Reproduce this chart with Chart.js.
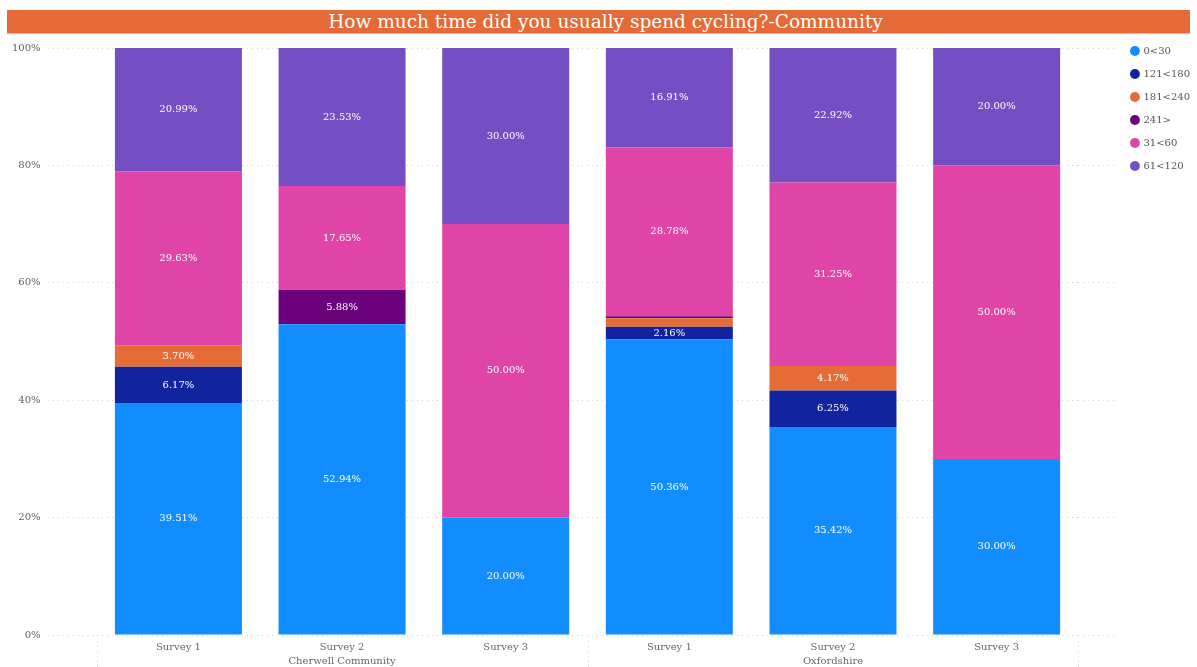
<!DOCTYPE html>
<html>
<head>
<meta charset="utf-8">
<script src="https://cdn.jsdelivr.net/npm/chart.js@4.4.0/dist/chart.umd.min.js"></script>
<style>
  body { margin: 0; background: #fff; width: 1197px; height: 667px; overflow: hidden; position: relative; }
  #title {
    position: absolute; left: 7px; top: 10px; width: 1169px; height: 23px; padding-left: 14px;
    background: #E46A38; color: #fff; text-align: center;
    font: 18.5px 'DejaVu Serif', serif; line-height: 23px;
    border-bottom: 1px solid #F2AD8C;
  }
  #wrap { position: absolute; left: 0; top: 35px; width: 1197px; height: 632px; }
</style>
</head>
<body>
<div id="title">How much time did you usually spend cycling?-Community</div>
<div id="wrap"><canvas id="myChart"></canvas></div>
<script>
// survey columns, grouped by area (area name sits under the middle survey)
let surveys = [['Survey 1'], ['Survey 2', 'Cherwell Community'], ['Survey 3'],
               ['Survey 1'], ['Survey 2', 'Oxfordshire'], ['Survey 3']];
let bands = ['0<30', '121<180', '181<240', '241>', '31<60', '61<120'];
let bandColors = ['#118DFF', '#12239E', '#E66C37', '#6B007B', '#E044A7', '#744EC2'];

// share of respondents (%) per band, one value per survey column
let min0_30    = [39.51, 52.94, 20.00, 50.36, 35.42, 30.00];
let min121_180 = [6.17, 0, 0, 2.16, 6.25, 0];
let min181_240 = [3.70, 0, 0, 1.44, 4.17, 0];
let min241     = [0, 5.88, 0, 0.36, 0, 0];
let min31_60   = [29.63, 17.65, 50.00, 28.78, 31.25, 50.00];
let min61_120  = [20.99, 23.53, 30.00, 16.91, 22.92, 20.00];

let yTicks = [0, 20, 40, 60, 80, 100];

let bandValues = [min0_30, min121_180, min181_240, min241, min31_60, min61_120];
let fontFamily = "'DejaVu Serif', serif";

// white % labels in the middle of each segment big enough to hold one
const segmentLabels = {
    id: 'segmentLabels',
    afterDatasetsDraw(chart) {
        const ctx = chart.ctx;
        ctx.save();
        ctx.font = '10px ' + fontFamily;
        ctx.fillStyle = '#fff';
        ctx.textAlign = 'center';
        ctx.textBaseline = 'middle';
        chart.data.datasets.forEach((ds, i) => {
            chart.getDatasetMeta(i).data.forEach((bar, j) => {
                const v = ds.data[j];
                if (!v || v < 2) return;
                ctx.fillText(v.toFixed(2) + '%', bar.x, (bar.y + bar.base) / 2);
            });
        });
        ctx.restore();
    }
};

// dotted dividers under the axis: left edge, between the two areas, right edge
const groupDividers = {
    id: 'groupDividers',
    afterDraw(chart) {
        const ctx = chart.ctx;
        const x = chart.scales.x;
        const area = chart.chartArea;
        const mid = (x.getPixelForValue(2) + x.getPixelForValue(3)) / 2;
        ctx.save();
        ctx.strokeStyle = '#cfcfcf';
        ctx.lineWidth = 1;
        ctx.setLineDash([1, 4]);
        [area.left, mid, area.right].forEach(px => {
            ctx.beginPath();
            ctx.moveTo(Math.round(px) + 0.5, area.bottom + 6);
            ctx.lineTo(Math.round(px) + 0.5, chart.height);
            ctx.stroke();
        });
        ctx.restore();
    }
};

var ctx = document.getElementById('myChart').getContext('2d');
var myChart = new Chart(ctx, {
    type: 'bar',
    data: {
        labels: surveys,
        datasets: bands.map((b, i) => ({
            label: b,
            data: bandValues[i],
            backgroundColor: bandColors[i],
            borderWidth: 0,
            categoryPercentage: 1,
            barPercentage: 0.776
        }))
    },
    options: {
        responsive: true,
        maintainAspectRatio: false,
        animation: false,
        layout: { padding: { top: -2, left: 5, right: -3, bottom: -6 } },
        scales: {
            x: {
                stacked: true,
                grid: { display: false, drawTicks: false },
                border: { display: false },
                ticks: {
                    color: '#666',
                    padding: 5,
                    maxRotation: 0,
                    font: { family: fontFamily, size: 10, lineHeight: 1.4 }
                }
            },
            y: {
                stacked: true,
                min: yTicks[0],
                max: yTicks[yTicks.length - 1],
                afterBuildTicks(s) { s.ticks = yTicks.map(v => ({ value: v })); },
                grid: {
                    color: '#d2d2d2',
                    drawTicks: true,
                    tickLength: 49,
                    tickColor: '#d2d2d2',
                    tickBorderDash: [1, 4]
                },
                border: { display: false, dash: [1, 4] },
                ticks: {
                    color: '#5e5e5e',
                    padding: 7,
                    font: { family: fontFamily, size: 10 },
                    callback: v => v + '%'
                }
            },
            yRight: {
                position: 'right',
                min: yTicks[0],
                max: yTicks[yTicks.length - 1],
                afterBuildTicks(s) { s.ticks = yTicks.map(v => ({ value: v })); },
                afterFit(s) { s.width = 40; },
                grid: {
                    drawOnChartArea: false,
                    drawTicks: true,
                    tickLength: 39,
                    tickColor: '#d2d2d2',
                    tickBorderDash: [1, 4]
                },
                border: { display: false },
                ticks: { display: false }
            }
        },
        plugins: {
            legend: {
                position: 'right',
                align: 'start',
                labels: {
                    usePointStyle: true,
                    pointStyle: 'circle',
                    boxWidth: 7,
                    boxHeight: 7,
                    padding: 13,
                    color: '#555',
                    font: { family: fontFamily, size: 10 }
                }
            },
            tooltip: { enabled: false }
        }
    },
    plugins: [segmentLabels, groupDividers]
});
</script>
</body>
</html>
